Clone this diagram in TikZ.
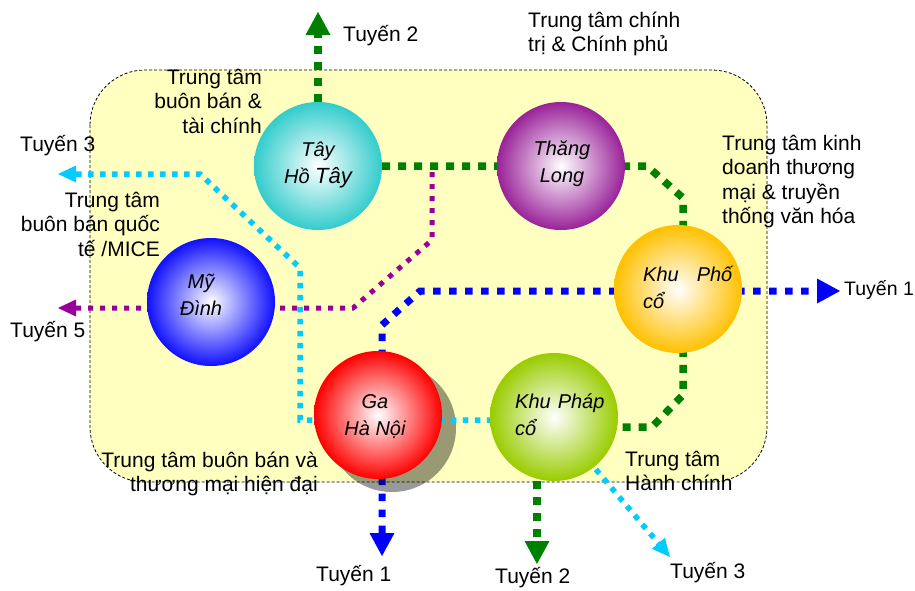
\documentclass[tikz,border=0pt]{standalone}
\usepackage{fontspec}
\setmainfont{Liberation Sans}
\usetikzlibrary{arrows.meta}
\pgfdeclarelayer{back}
\pgfdeclarelayer{mid}
\pgfsetlayers{back,mid,main}
\definecolor{zone}{HTML}{FFFFC0}
\definecolor{lgreen}{HTML}{008000}
\definecolor{lblue}{HTML}{0000FF}
\definecolor{lcyan}{HTML}{00CCFF}
\definecolor{lpurple}{HTML}{990099}
\definecolor{ctay}{HTML}{33CCCC}
\definecolor{cthang}{HTML}{992299}
\definecolor{cpho}{HTML}{FFC000}
\definecolor{cga}{HTML}{FF0000}
\definecolor{cphap}{HTML}{99CC00}
\definecolor{cmy}{HTML}{1010FF}
\newcommand\lbfont{\fontsize{21}{24.5}\selectfont}
\newcommand\bfontx{\fontsize{20}{26.5}\selectfont\itshape}
\begin{document}
\begin{tikzpicture}[x=1pt,y=-1pt,
  ball/.style={circle,minimum size=128pt,inner sep=0pt,inner color=white,outer color=#1},
  lbl/.style={font=\lbfont,inner sep=0pt},
  btxt/.style={font=\bfontx,inner sep=0pt},
  gline/.style={lgreen,line width=7.5pt,dash pattern=on 8pt off 8pt},
  bline/.style={lblue,line width=7pt,dash pattern=on 7.5pt off 8.5pt},
  pline/.style={lpurple,line width=5pt,dash pattern=on 5pt off 7pt},
  cline/.style={lcyan,line width=5.5pt,dash pattern=on 5.5pt off 6.5pt},
  bigtip/.tip={Triangle[length=23pt,width=25pt,line width=0pt]},
  smalltip/.tip={Triangle[length=18pt,width=17pt,line width=0pt]}]
\useasboundingbox (0,0) rectangle (915,590);

% stations
\node[ball=ctay] (tay) at (318,166) {};
\node[ball=cthang] (thang) at (561,166) {};
\node[ball=cpho] (pho) at (678,289) {};
\node[ball=cphap] (phap) at (554,417) {};
\node[ball=cmy] (my) at (211,302) {};
\node[ball=cga] (ga) at (378,415) {};

% station names (base = last line's baseline)
\node[btxt,align=center,anchor=base] (ttay) at (318,183) {Tây\\Hồ {\fontsize{22}{26.5}\selectfont Tây}};
\node[btxt,align=center,anchor=base] (tthang) at (562,182) {Thăng\\Long};
\node[btxt,align=left,anchor=base west] (tpho) at (643,308) {Khu\hspace{18pt}Phố\\cổ};
\node[btxt,align=left,anchor=base west] (tphap) at (515,435) {Khu\hspace{7pt}Pháp\\cổ};
\node[btxt,align=center,anchor=base] (tmy) at (201,315) {Mỹ\\Đình};
\node[btxt,align=center,anchor=base] (tga) at (375,435) {Ga\\Hà Nội};

% free ends and bends
\coordinate (g2top) at (318,12);
\coordinate (g2bot) at (537,564);
\coordinate (gb1) at (647,166);
\coordinate (gb2) at (683,198);
\coordinate (gb3) at (683,395);
\coordinate (gb4) at (652,427);
\coordinate (gb5) at (554,427);
\coordinate (b1bot) at (382,556);
\coordinate (bb1) at (382,325);
\coordinate (bb2) at (420,291);
\coordinate (b1right) at (840,291);
\coordinate (p5) at (58,308);
\coordinate (pb1) at (353,308);
\coordinate (pb2) at (432,240);
\coordinate (pb3) at (432,166);
\coordinate (c3left) at (58,174);
\coordinate (cb1) at (200,174);
\coordinate (cb2) at (300,268);
\coordinate (cb3) at (300,420);
\coordinate (cb4) at (554,420);
\coordinate (c3br) at (670,557);

% labels (base = last line's baseline)
\node[lbl,anchor=base west] (l2top) at (343,41) {Tuyến 2};
\node[lbl,align=left,anchor=base west] (lct) at (528,51.5) {Trung tâm chính\\trị \& Chính phủ};
\node[lbl,align=right,anchor=base east] (ltc) at (262,133) {Trung tâm\\buôn bán \&\\tài chính};
\node[lbl,anchor=base west] (l3top) at (20,151) {Tuyến 3};
\node[lbl,align=right,anchor=base east] (lmice) at (160,256) {Trung tâm\\buôn bán quốc\\tế /MICE};
\node[lbl,anchor=base west] (l5) at (10,337) {Tuyến 5};
\node[lbl,align=left,anchor=base west] (lvh) at (722,223.5) {Trung tâm kinh\\doanh thương\\mại \& truyền\\thống văn hóa};
\node[lbl,anchor=base west,font=\fontsize{19.5}{24}\selectfont] (l1r) at (844,295) {Tuyến 1};
\node[lbl,align=right,anchor=base east] (lhd) at (318,491.5) {Trung tâm buôn bán và\\thương mại hiện đại};
\node[lbl,align=left,anchor=base west] (lhc) at (625,490.5) {Trung tâm\\Hành chính};
\node[lbl,anchor=base west] (l1b) at (316,581) {Tuyến 1};
\node[lbl,anchor=base west] (l2b) at (495,583) {Tuyến 2};
\node[lbl,anchor=base west] (l3b) at (670,578) {Tuyến 3};

\begin{pgfonlayer}{back}
\draw[fill=zone,line width=0.8pt,dash pattern=on 3pt off 2pt,rounded corners=55pt] (90,70) rectangle (767,482);
\end{pgfonlayer}

\begin{pgfonlayer}{mid}
\draw[gline,-{bigtip}] (tay.center) -- (g2top);
\draw[gline] (tay.center) -- (thang.center) -- (gb1) -- (gb2) -- (gb3) -- (gb4) -- (gb5);
\draw[gline,-{bigtip}] (phap.center -| g2bot) -- (g2bot);
\draw[bline,{bigtip}-{bigtip}] (b1bot) -- (bb1) -- (bb2) -- (b1right);
\draw[pline,{smalltip}-] (p5) -- (pb1) -- (pb2) -- (pb3);
\node[circle,fill=black,opacity=0.4,minimum size=128pt,inner sep=0pt] (gashadow) at (392,428) {};
\draw[cline,{smalltip}-{smalltip}] (c3left) -- (cb1) -- (cb2) -- (cb3) -- (cb4) -- (c3br);
\end{pgfonlayer}
\end{tikzpicture}
\end{document}
